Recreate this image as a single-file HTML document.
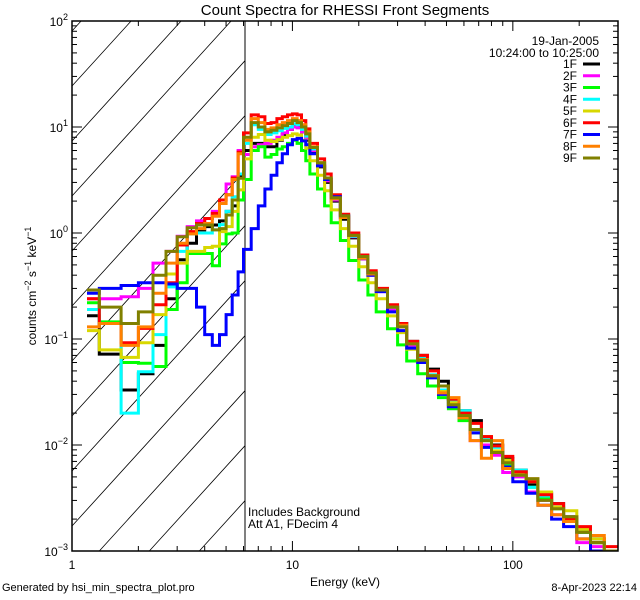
<!DOCTYPE html>
<html><head><meta charset="utf-8">
<style>
html,body{margin:0;padding:0;background:#fff;overflow:hidden;width:640px;height:600px;}
svg{display:block;font-family:"Liberation Sans",sans-serif;}
</style></head>
<body>
<svg id="chart" width="640" height="600" viewBox="0 0 640 600" xmlns="http://www.w3.org/2000/svg">
<rect x="0" y="0" width="640" height="600" fill="#fff"/>
<text x="345" y="15" font-size="15" text-anchor="middle">Count Spectra for RHESSI Front Segments</text>
<defs><clipPath id="pc"><rect x="72" y="21" width="546" height="530"/></clipPath></defs>
<g id="hatch"></g>
<line x1="245" y1="21" x2="245" y2="551" stroke="#000" stroke-width="1"/>
<g id="series" clip-path="url(#pc)"></g>
<rect x="72" y="21" width="546" height="530" fill="none" stroke="#000" stroke-width="1.5"/>
<g id="axes"></g>
<g id="legend" font-size="12"></g>
<text transform="translate(36,286) rotate(-90)" font-size="12" text-anchor="middle">counts cm<tspan dy="-5" font-size="9">−2</tspan><tspan dy="5"> s</tspan><tspan dy="-5" font-size="9">−1</tspan><tspan dy="5"> keV</tspan><tspan dy="-5" font-size="9">−1</tspan></text>
<text x="345" y="586" font-size="12" text-anchor="middle">Energy (keV)</text>
<text x="248" y="516" font-size="12">Includes Background</text>
<text x="248" y="528" font-size="12">Att A1, FDecim 4</text>
<text x="2" y="591" font-size="11">Generated by hsi_min_spectra_plot.pro</text>
<text x="637" y="591" font-size="11" text-anchor="end">8-Apr-2023 22:14</text>
</svg>
<script>
const energyEdges=[1.17,1.33,1.67,2,2.33,2.67,3,3.33,3.67,4,4.33,4.67,5,5.33,5.67,6,6.5,7,7.5,8,8.5,9,9.5,10,10.5,11,11.5,12,13,14,15,16.5,18,20,22,24,27,30,33,37,41,46,51,57,64,72,80,90,100,115,130,150,170,195,225,260,300];
const seriesNames=["1F","2F","3F","4F","5F","6F","7F","8F","9F"];
const s1F=[0.166,0.072,0.033,0.047,0.087,0.24,0.56,0.8,1.07,1.15,1.19,1.3,1.6,1.8,3.4,6,7,7,6.5,6.5,7.5,8.5,9.5,10.5,10,9,7.5,5.8,4.2,3,2,1.35,0.9,0.57,0.42,0.29,0.2,0.14,0.095,0.07,0.052,0.04,0.027,0.021,0.017,0.012,0.01,0.0075,0.0058,0.0042,0.0035,0.0028,0.0021,0.0015,0.0013,0.001];
const s2F=[0.24,0.24,0.25,0.3,0.52,0.67,0.93,1.15,1.3,1.37,1.6,2.05,2.9,3.4,6,5.5,6.5,6.8,7,7.5,8,8.8,9.5,10,9.8,9,7.8,6,4.3,3.1,2.05,1.4,0.92,0.57,0.4,0.28,0.19,0.13,0.087,0.063,0.045,0.032,0.024,0.019,0.011,0.01,0.008,0.0055,0.005,0.0036,0.003,0.0022,0.0019,0.0012,0.0011,0.0009];
const s3F=[0.22,0.145,0.06,0.059,0.055,0.19,0.34,0.64,0.64,0.64,0.49,0.79,0.98,1.0,2.05,3.2,6,6.5,5.2,5.5,6.2,6.5,7,7.5,7,6,4.8,3.6,2.6,1.8,1.25,0.85,0.55,0.36,0.26,0.18,0.125,0.088,0.062,0.047,0.036,0.028,0.022,0.017,0.013,0.011,0.0085,0.0066,0.0052,0.004,0.0032,0.0025,0.0019,0.0015,0.0012,0.001];
const s4F=[0.19,0.14,0.02,0.049,0.11,0.31,0.67,0.98,1.0,1.0,1.07,1.2,1.6,2.2,3.6,7,10.5,9.5,8.5,8.8,9.2,9.7,10,10.7,10.5,9.5,8.2,6.2,4.4,3.2,2.1,1.4,0.93,0.58,0.41,0.29,0.2,0.135,0.092,0.066,0.046,0.033,0.026,0.021,0.014,0.0115,0.0095,0.0068,0.0058,0.004,0.0033,0.0026,0.002,0.0016,0.0012,0.001];
const s5F=[0.12,0.079,0.067,0.092,0.17,0.41,0.52,0.67,0.67,0.73,0.75,1.03,1.15,1.6,2.55,5,8,8.5,7.5,7.3,7.6,8,8.3,8.6,8.4,7.5,6.3,4.8,3.5,2.5,1.65,1.1,0.75,0.48,0.34,0.24,0.165,0.115,0.08,0.06,0.044,0.032,0.025,0.018,0.014,0.012,0.0088,0.0072,0.0055,0.0045,0.0036,0.0026,0.0024,0.0016,0.0013,0.001];
const s6F=[0.24,0.14,0.092,0.126,0.21,0.34,0.77,1.03,1.23,1.37,1.53,2.05,2.3,3.3,5.8,8.8,13,12.5,10.8,11,12,12.5,13,13.3,13,11.5,9.6,7,5,3.6,2.3,1.5,1.0,0.62,0.44,0.3,0.21,0.14,0.095,0.07,0.05,0.036,0.027,0.02,0.016,0.012,0.0098,0.0078,0.0056,0.0045,0.0034,0.0028,0.002,0.0017,0.0012,0.0011];
const s7F=[0.27,0.3,0.32,0.34,0.34,0.33,0.3,0.3,0.2,0.11,0.087,0.11,0.17,0.26,0.43,0.7,1.1,1.8,2.6,3.5,4.6,5.6,6.8,7.6,7.8,7.4,6.8,5.6,4.3,3.2,2.2,1.45,0.95,0.58,0.4,0.28,0.18,0.12,0.082,0.06,0.043,0.03,0.023,0.018,0.013,0.0095,0.0085,0.0062,0.0045,0.0035,0.0027,0.002,0.0017,0.0013,0.001,0.0009];
const s8F=[0.13,0.14,0.087,0.13,0.27,0.52,0.8,0.98,1.1,1.23,1.44,1.9,2.3,3.2,5.6,7.5,12,11,9.5,9.8,10.5,11,11.5,12,11.5,10.5,9,6.5,4.6,3.3,2.1,1.4,0.95,0.58,0.41,0.29,0.2,0.135,0.09,0.064,0.045,0.031,0.028,0.018,0.011,0.0075,0.011,0.006,0.0052,0.0048,0.0027,0.0022,0.0019,0.0013,0.0014,0.0009];
const s9F=[0.29,0.2,0.14,0.18,0.4,0.67,0.92,1.12,1.19,1.19,1.07,1.1,1.48,2.05,3.28,8,11,10,9,9.3,9.8,10.3,10.8,11.5,11,10,8.6,6.4,4.6,3.3,2.15,1.45,0.95,0.6,0.42,0.29,0.2,0.13,0.09,0.063,0.045,0.036,0.024,0.019,0.014,0.011,0.0085,0.0068,0.0052,0.0048,0.003,0.0025,0.0021,0.0015,0.0012,0.001];
const seriesValues=[s1F,s2F,s3F,s4F,s5F,s6F,s7F,s8F,s9F];
const seriesColors=["#000000","#ff00ff","#00ff00","#00ffff","#d8d800","#ff0000","#0000ff","#ff8000","#808000"];
const xTickLabels=["1","10","100"];
const yTickExponents=["2","1","0","−1","−2","−3"];

const NS="http://www.w3.org/2000/svg";
const X0=72,X1=618,Y0=21,Y1=551,EMIN=1,EMAX=300,VMIN=1e-3,VMAX=1e2;
function xs(e){return X0+(Math.log10(e)-Math.log10(EMIN))/(Math.log10(EMAX)-Math.log10(EMIN))*(X1-X0);}
function ys(v){return Y0+(Math.log10(VMAX)-Math.log10(v))/(Math.log10(VMAX)-Math.log10(VMIN))*(Y1-Y0);}
function mk(tag,attrs,parent){const el=document.createElementNS(NS,tag);for(const k in attrs)el.setAttribute(k,attrs[k]);parent.appendChild(el);return el;}

// hatch lines clipped analytically to x in [72,245], y in [21,551]
const hatch=document.getElementById('hatch');
const HX1=245,SL=1.1;
for(let k=-6;k<20;k++){
  const yl=86+k*55; // y at x=72
  // y = yl - SL*(x-72)
  let xa=X0, ya=yl;
  if(ya>Y1){xa=X0+(ya-Y1)/SL;ya=Y1;}
  let xb=HX1, yb=yl-SL*(HX1-X0);
  if(yb<Y0){xb=X0+(yl-Y0)/SL;yb=Y0;}
  if(xa>=xb||ya<Y0||xa>HX1)continue;
  const l=mk('line',{x1:xa.toFixed(1),y1:ya.toFixed(1),x2:xb.toFixed(1),y2:yb.toFixed(1),stroke:'#000','stroke-width':0.8},hatch);
  
  
}

const sg=document.getElementById('series');
seriesValues.forEach((vals,i)=>{
  let d='';
  for(let b=0;b<vals.length;b++){
    const xa=xs(energyEdges[b]).toFixed(1),xb=xs(energyEdges[b+1]).toFixed(1),y=ys(Math.max(vals[b],VMIN)).toFixed(1);
    d+=(b===0?'M':'L')+xa+','+y+'L'+xb+','+y;
  }
  const p=mk('path',{d:d,fill:'none',stroke:seriesColors[i],'stroke-width':3,'stroke-linejoin':'miter'},sg);
  
  
});

const ax=document.getElementById('axes');
for(let dec=0;dec<3;dec++){
  for(let m=1;m<10;m++){
    const e=m*Math.pow(10,dec);if(e>EMAX)break;
    const x=xs(e),len=(m===1)?10:5;
    const t1=mk('line',{x1:x,y1:Y1,x2:x,y2:Y1-len,stroke:'#000','stroke-width':1},ax);
    
    
    const t2=mk('line',{x1:x,y1:Y0,x2:x,y2:Y0+len,stroke:'#000','stroke-width':1},ax);
    
    
  }
}
xTickLabels.forEach(s=>{
  const t=mk('text',{x:xs(parseFloat(s)),y:Y1+18,'font-size':12,'text-anchor':'middle'},ax);
  t.textContent=s;
  
  
});
for(let dec=-3;dec<2;dec++){
  for(let m=1;m<10;m++){
    const v=m*Math.pow(10,dec);const y=ys(v),len=(m===1)?10:5;
    const t1=mk('line',{x1:X0,y1:y,x2:X0+len,y2:y,stroke:'#000','stroke-width':1},ax);
    
    
    const t2=mk('line',{x1:X1,y1:y,x2:X1-len,y2:y,stroke:'#000','stroke-width':1},ax);
    
    
  }
}
yTickExponents.forEach((s,i)=>{
  const y=ys(Math.pow(10,2-i));
  const t=mk('text',{x:X0-4,y:y+5,'font-size':12,'text-anchor':'end'},ax);
  const a=document.createElementNS(NS,'tspan');a.textContent='10';t.appendChild(a);
  const b=document.createElementNS(NS,'tspan');b.setAttribute('dy','-6');b.setAttribute('font-size','9');b.textContent=s;t.appendChild(b);
  
  
});

const lg=document.getElementById('legend');
const d1=mk('text',{x:599,y:45,'text-anchor':'end'},lg);d1.textContent='19-Jan-2005';


const d2=mk('text',{x:599,y:57,'text-anchor':'end'},lg);d2.textContent='10:24:00 to 10:25:00';


seriesNames.forEach((n,i)=>{
  const y=64+i*11.75;
  const t=mk('text',{x:577,y:y+4,'text-anchor':'end'},lg);t.textContent=n;
  
  
  const l=mk('line',{x1:583,y1:y,x2:600,y2:y,stroke:seriesColors[i],'stroke-width':3},lg);
  
  
});
</script>
</body></html>
